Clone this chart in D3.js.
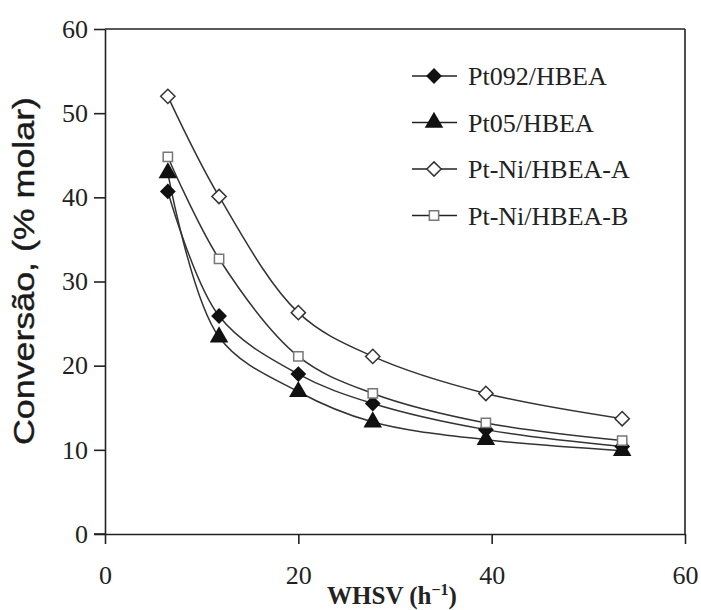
<!DOCTYPE html>
<html>
<head>
<meta charset="utf-8">
<script src="https://cdn.jsdelivr.net/npm/d3@7"></script>
<style>
  body { margin: 0; background: #fff; }
  .tick text { font-family: "Liberation Serif", "Times New Roman", serif; font-size: 26px; fill: #222; }
  .axis path, .axis line { stroke: #222; stroke-width: 1.6; }
</style>
</head>
<body>
<div class="container"></div>
<script>
var whsv = [6.5, 11.8, 20, 27.7, 39.4, 53.5];

var pt092 = [40.7, 25.9, 19.0, 15.5, 12.4, 10.4];
var pt05 = [42.9, 23.4, 16.9, 13.3, 11.2, 9.9];
var ptNiA = [52.0, 40.1, 26.3, 21.1, 16.7, 13.7];
var ptNiB = [44.8, 32.7, 21.1, 16.7, 13.2, 11.1];

var seriesNames = ["Pt092/HBEA", "Pt05/HBEA", "Pt-Ni/HBEA-A", "Pt-Ni/HBEA-B"];
var xTicks = [0, 20, 40, 60];
var yTicks = [0, 10, 20, 30, 40, 50, 60];

const WIDTH = 701;
const HEIGHT = 610;
const LEFT = 105, TOP = 29;
const INNER_WIDTH = 580;
const INNER_HEIGHT = 505;

var translate = function(x, y){
  return "translate(" + x + "," + y + ")";
};

var _xScale = d3.scaleLinear().domain([0, 60]).range([0, INNER_WIDTH]);
var _yScale = d3.scaleLinear().domain([0, 60]).range([INNER_HEIGHT, 0]);

var _line = d3.line()
  .x(function(d){ return _xScale(d[0]); })
  .y(function(d){ return _yScale(d[1]); })
  .curve(d3.curveCatmullRom.alpha(0.5));

// marker styles per series
var markers = [
  {shape: d3.symbolDiamond2, size: 120, fill: "#111", stroke: "#111"},
  {shape: d3.symbolTriangle, size: 110, fill: "#111", stroke: "#111"},
  {shape: d3.symbolDiamond2, size: 130, fill: "#fff", stroke: "#333"},
  {shape: d3.symbolSquare2, size: 110, fill: "#fff", stroke: "#777"}
];

var generateChart = function(){
  var svg = d3.select('.container').append('svg')
    .attr("width", WIDTH)
    .attr("height", HEIGHT);

  var g = svg.append('g').attr('transform', translate(LEFT, TOP));

  // frame (top and right)
  g.append('line').attr('x1', 0).attr('x2', INNER_WIDTH).attr('y1', 0).attr('y2', 0)
    .attr('stroke', '#222').attr('stroke-width', 1.6);
  g.append('line').attr('x1', INNER_WIDTH).attr('x2', INNER_WIDTH).attr('y1', 0).attr('y2', INNER_HEIGHT)
    .attr('stroke', '#222').attr('stroke-width', 1.6);

  var yAxis = d3.axisLeft(_yScale).tickValues(yTicks).tickSize(11).tickSizeOuter(0).tickPadding(6);
  var xAxis = d3.axisBottom(_xScale).tickValues(xTicks).tickSize(10).tickSizeOuter(0).tickPadding(22);

  g.append('g').attr('class', 'axis').call(yAxis);
  g.append('g').attr('class', 'axis')
    .attr('transform', translate(0, INNER_HEIGHT))
    .call(xAxis);
  // x axis line extends left a bit past the y axis
  g.append('line').attr('x1', -11).attr('x2', 0).attr('y1', INNER_HEIGHT).attr('y2', INNER_HEIGHT)
    .attr('stroke', '#222').attr('stroke-width', 1.6);

  var all = [pt092, pt05, ptNiA, ptNiB];

  all.forEach(function(vals, i){
    var pts = whsv.map(function(x, j){ return [x, vals[j]]; });
    g.append('path').datum(pts)
      .attr('d', _line)
      .attr('fill', 'none')
      .attr('stroke', '#333')
      .attr('stroke-width', 1.5);
  });

  all.forEach(function(vals, i){
    var m = markers[i];
    g.selectAll('.m' + i).data(whsv)
      .enter().append('path')
      .attr('class', 'm' + i)
      .attr('d', d3.symbol().type(m.shape).size(m.size))
      .attr('transform', function(x, j){ return translate(_xScale(x), _yScale(vals[j])); })
      .attr('fill', m.fill)
      .attr('stroke', m.stroke)
      .attr('stroke-width', 1.5);
  });

  // legend
  var legend = svg.append('g').attr('transform', translate(412, 76));
  seriesNames.forEach(function(name, i){
    var row = legend.append('g').attr('transform', translate(0, i * 46.5));
    row.append('line').attr('x1', 0).attr('x2', 45).attr('y1', 0).attr('y2', 0)
      .attr('stroke', '#222').attr('stroke-width', 1.6);
    row.append('path')
      .attr('d', d3.symbol().type(markers[i].shape).size(markers[i].size))
      .attr('transform', translate(22, 0))
      .attr('fill', markers[i].fill)
      .attr('stroke', markers[i].stroke)
      .attr('stroke-width', 1.5);
    row.append('text')
      .attr('x', 56).attr('y', 9)
      .style('font-family', '"Liberation Serif", serif')
      .style('font-size', '26px')
      .attr('fill', '#222')
      .text(name);
  });

  // axis titles
  var xt = svg.append('text')
    .attr('x', LEFT + INNER_WIDTH / 2 - 3).attr('y', 604)
    .attr('text-anchor', 'middle')
    .style('font-family', '"Liberation Serif", serif')
    .style('font-size', '25px')
    .style('font-weight', 'bold')
    .attr('fill', '#222');
  xt.append('tspan').text('WHSV (h');
  xt.append('tspan').attr('dy', -9).style('font-size', '16px').text('\u22121');
  xt.append('tspan').attr('dy', 9).text(')');

  svg.append('text')
    .attr('transform', translate(34, 271) + ' rotate(-90)')
    .attr('text-anchor', 'middle')
    .attr('textLength', 348)
    .attr('lengthAdjust', 'spacingAndGlyphs')
    .style('font-family', '"Liberation Sans", Arial, sans-serif')
    .style('font-size', '29px')
    .attr('fill', '#1a1a1a')
    .attr('stroke', '#1a1a1a')
    .attr('stroke-width', 0.4)
    .text('Conversão, (% molar)');
};

window.onload = generateChart;
</script>
</body>
</html>
